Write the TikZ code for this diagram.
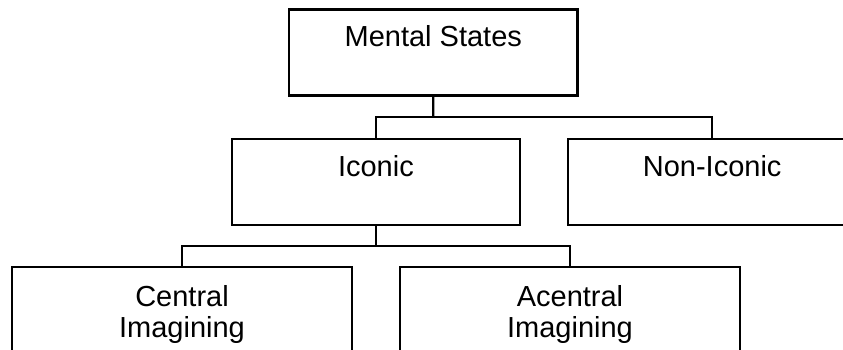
\documentclass[tikz,border=0pt]{standalone}
\usepackage{fontspec}
\setmainfont{Liberation Sans}
\usetikzlibrary{calc}
\begin{document}
\begin{tikzpicture}[x=1pt,y=-1pt,
  box/.style={draw, line width=2.3pt, inner sep=0pt, font=\fontsize{29}{31}\selectfont,
    align=center, anchor=north, text height=37.5pt, text depth=48.5pt, minimum width=288.5pt},
  wide/.style={minimum width=340pt, text height=70.5pt, text depth=15pt},
  link/.style={line width=2.3pt}]
\useasboundingbox (0,0) rectangle (843,349);
\clip (0,0) rectangle (843,349);
\node[box] (ms) at (433.3,8.3) {Mental States};
\node[box] (ic) at (375.9,137.7) {Iconic};
\node[box] (nic) at (712.2,137.7) {Non-Iconic};
\node[box,wide] (ce) at (182,266) {Central\\Imagining};
\node[box,wide] (ac) at (570,266) {Acentral\\Imagining};
\coordinate (b1) at ($(ms.south)!0.5!(ms.south |- ic.north)$);
\draw[link] (ms.south) -- (b1);
\draw[link] (ic.north) |- (b1) -| (nic.north);
\coordinate (b2) at ($(ic.south)!0.5!(ic.south |- ce.north)$);
\draw[link] (ic.south) -- (b2);
\draw[link] (ce.north) |- (b2) -| (ac.north);
\end{tikzpicture}
\end{document}
